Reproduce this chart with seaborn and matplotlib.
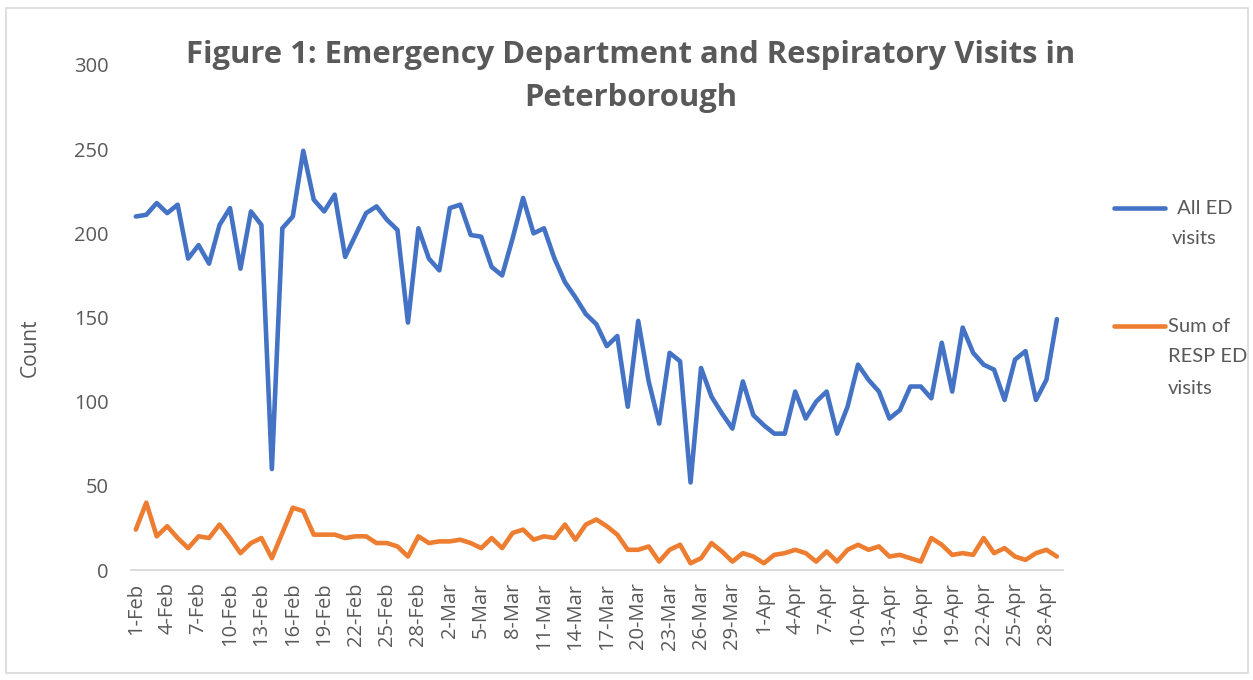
import matplotlib
matplotlib.use("Agg")
import matplotlib.pyplot as plt
import seaborn as sns
import pandas as pd
from matplotlib.lines import Line2D
from matplotlib.patches import Rectangle

# --- Data ---
START_DATE = "2020-02-01"
SERIES_NAMES = ["All ED visits", "Sum of RESP ED visits"]
LEGEND_LINES = [[" All ED", "visits"], ["Sum of", "RESP ED", "visits"]]

ALL_ED = [210, 211, 218, 212, 217, 185, 193, 182, 205, 215,
          179, 213, 205, 60, 203, 210, 249, 220, 213, 223,
          186, 199, 212, 216, 208, 202, 147, 203, 185, 178,
          215, 217, 199, 198, 180, 175, 197, 221, 200, 203,
          185, 171, 162, 152, 146, 133, 139, 97, 148, 112,
          87, 129, 124, 52, 120, 103, 93, 84, 112, 92,
          86, 81, 81, 106, 90, 100, 106, 81, 97, 122,
          113, 106, 90, 95, 109, 109, 102, 135, 106, 144,
          129, 122, 119, 101, 125, 130, 101, 113, 149]

RESP_ED = [24, 40, 20, 26, 19, 13, 20, 19, 27, 19,
           10, 16, 19, 7, 22, 37, 35, 21, 21, 21,
           19, 20, 20, 16, 16, 14, 8, 20, 16, 17,
           17, 18, 16, 13, 19, 13, 22, 24, 18, 20,
           19, 27, 18, 27, 30, 26, 21, 12, 12, 14,
           5, 12, 15, 4, 7, 16, 11, 5, 10, 8,
           4, 9, 10, 12, 10, 5, 11, 5, 12, 15,
           12, 14, 8, 9, 7, 5, 19, 15, 9, 10,
           9, 19, 10, 13, 8, 6, 10, 12, 8]

Y_TICKS = [0, 50, 100, 150, 200, 250, 300]
TITLE_LINES = ["Figure 1: Emergency Department and Respiratory Visits in", "Peterborough"]

# --- Style ---
BLUE = "#4472C4"
ORANGE = "#ED7D31"
TEXT = "#595959"
GRID = "#D9D9D9"
W, H = 1253, 680


def fx(px):
    return px / W


def fy(py):
    return 1 - py / H


sns.set_theme(style="white")
plt.rcParams["font.family"] = ["Open Sans", "DejaVu Sans"]

dates = pd.date_range(START_DATE, periods=len(ALL_ED), freq="D")
df = pd.DataFrame({"date": dates, SERIES_NAMES[0]: ALL_ED, SERIES_NAMES[1]: RESP_ED})
long_df = df.melt(id_vars="date", var_name="series", value_name="count")

fig = plt.figure(figsize=(W / 100, H / 100), dpi=100)
ax = fig.add_axes([fx(131), fy(570), (1063 - 131) / W, (570 - 65) / H])

sns.lineplot(data=long_df, x="date", y="count", hue="series",
             palette=[BLUE, ORANGE], linewidth=3.3, ax=ax, legend=False,
             solid_joinstyle="round", solid_capstyle="round")

ax.set_ylim(0, 300)
ax.set_yticks(Y_TICKS)
ax.set_xlim(dates[0] - pd.Timedelta(hours=11), dates[-1] + pd.Timedelta(hours=14))
tick_dates = dates[::3]
ax.set_xticks(tick_dates)
ax.set_xticklabels([f"{d.day}-{d.strftime('%b')}" for d in tick_dates], rotation=90)
ax.tick_params(axis="both", length=0, labelsize=14.5, labelcolor=TEXT)
ax.tick_params(axis="y", pad=16)
ax.tick_params(axis="x", pad=9)
ax.set_xlabel("")
ax.set_ylabel("")

for side in ["top", "right", "left"]:
    ax.spines[side].set_visible(False)
ax.spines["bottom"].set_color(GRID)
ax.spines["bottom"].set_linewidth(1.3)

fig.text(fx(30), fy(348), "Count", rotation=90, ha="center", va="center",
         fontsize=15, color=TEXT)
for text, y in zip(TITLE_LINES, [55, 98]):
    fig.text(fx(631), fy(y), text, ha="center", va="center", fontsize=22.3,
             fontweight="bold", color=TEXT)

# legend drawn by hand so the key line sits beside the first label line
legend_rows = [(BLUE, 208, 1172), (ORANGE, 326, 1168)]
for (color, y0, tx), lines in zip(legend_rows, LEGEND_LINES):
    fig.add_artist(Line2D([fx(1114), fx(1165)], [fy(y0), fy(y0)], color=color,
                          lw=3.3, solid_capstyle="round", transform=fig.transFigure))
    for i, line in enumerate(lines):
        fig.text(fx(tx), fy(y0 + i * 31), line, ha="left", va="center",
                 fontsize=14.5, color=TEXT, family=["Lato", "DejaVu Sans"])

fig.patches.append(Rectangle((fx(6), fy(673)), (1248 - 6) / W, (673 - 8) / H,
                             transform=fig.transFigure, fill=False,
                             edgecolor=GRID, linewidth=1.2))

fig.savefig("out.png", dpi=100)
